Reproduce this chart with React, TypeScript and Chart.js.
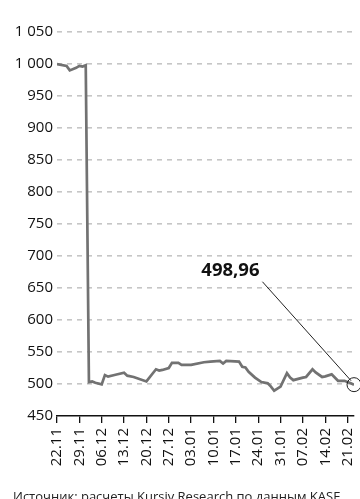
import React, { useEffect, useRef } from "react";
import { Chart, registerables } from "chart.js";

Chart.register(...registerables);

// Days since 22.11 and the index value on that day
const days = [
  0, 3, 4, 6, 7, 8, 9, 10, 11, 12, 14, 15, 16, 18, 21, 22, 24, 28, 31, 32, 33, 35, 36, 38, 39, 42,
  46, 48, 51, 52, 53, 57, 58, 59, 60, 62, 64, 66, 67, 68, 70, 72, 73, 74, 77, 78, 80, 81, 83, 84,
  86, 88, 90, 92, 93,
];
const values = [
  1000, 997, 990, 994, 997, 996, 998, 503, 504, 502, 499.5, 514, 511.5, 514, 517.5, 513, 511, 504,
  523, 521, 522, 525, 533, 533, 530, 530, 534, 535, 536, 532, 536, 535, 527, 526, 519, 510, 503,
  501, 496, 489.5, 496, 517, 510, 506, 510, 511, 523, 518, 511, 512, 515, 505, 505, 501, 498.96,
];

// Weekly axis marks
const tickDays = [0, 7, 14, 21, 28, 35, 42, 49, 56, 63, 70, 77, 84, 91];
const tickLabels = [
  "22.11", "29.11", "06.12", "13.12", "20.12", "27.12", "03.01",
  "10.01", "17.01", "24.01", "31.01", "07.02", "14.02", "21.02",
];

const lastLabel = "498,96";
const sourceText = "Источник: расчеты Kursiv Research по данным KASE";

// Where the callout text sits, in axis units
const calloutDay = 54.3;
const calloutValue = 677;

const FONT = "'Open Sans', 'Noto Sans', sans-serif";

const fmtThousands = (v: number) => {
  const s = String(Math.round(v));
  return s.length > 3 ? s.slice(0, s.length - 3) + " " + s.slice(-3) : s;
};

const calloutPlugin = {
  id: "lastValueCallout",
  afterDatasetsDraw(chart: any) {
    const { ctx, scales } = chart;
    const xs = scales.x;
    const ys = scales.y;
    const lx = xs.getPixelForValue(calloutDay);
    const ly = ys.getPixelForValue(calloutValue);
    const px = xs.getPixelForValue(days[days.length - 1]);
    const py = ys.getPixelForValue(values[values.length - 1]);
    ctx.save();
    ctx.font = `bold 18.5px ${FONT}`;
    ctx.fillStyle = "#111";
    ctx.textAlign = "center";
    ctx.textBaseline = "middle";
    ctx.fillText(lastLabel, lx, ly);
    ctx.strokeStyle = "#222";
    ctx.lineWidth = 1;
    ctx.beginPath();
    ctx.moveTo(lx + 32, ly + 11);
    ctx.lineTo(px - 3, py - 4);
    ctx.stroke();
    ctx.beginPath();
    ctx.arc(px, py, 7, 0, Math.PI * 2);
    ctx.stroke();
    ctx.restore();
  },
};

export default function App() {
  const ref = useRef<HTMLCanvasElement | null>(null);

  useEffect(() => {
    document.body.style.margin = "0";
    const canvas = ref.current;
    if (!canvas) return;
    const chart = new Chart(canvas, {
      type: "line",
      data: {
        datasets: [
          {
            data: days.map((d, i) => ({ x: d, y: values[i] })),
            borderColor: "#727272",
            borderWidth: 2.7,
            pointRadius: 0,
            tension: 0,
            fill: false,
          },
        ],
      },
      options: {
        animation: false,
        responsive: false,
        maintainAspectRatio: false,
        layout: { padding: { top: 32, right: 6, left: 0, bottom: 0 } },
        plugins: { legend: { display: false }, tooltip: { enabled: false } },
        scales: {
          x: {
            type: "linear",
            min: 0,
            max: 93,
            afterFit: (s: any) => {
              s.height = 83;
              s.paddingLeft = 0;
              s.paddingRight = 0;
            },
            afterBuildTicks: (s: any) => {
              s.ticks = tickDays.map((v) => ({ value: v }));
            },
            border: { display: true, color: "#111", width: 1.5 },
            grid: {
              drawOnChartArea: false,
              drawTicks: true,
              tickLength: 7,
              color: "#111",
              lineWidth: 1.3,
            },
            ticks: {
              autoSkip: false,
              minRotation: 90,
              maxRotation: 90,
              padding: 5,
              color: "#111",
              font: { family: FONT, size: 15 },
              callback: (_v: any, i: number) => tickLabels[i],
            },
          },
          y: {
            min: 450,
            max: 1050,
            afterFit: (s: any) => {
              s.width = 57;
            },
            border: { display: false, dash: [5, 5] },
            grid: {
              drawTicks: false,
              color: (c: any) => (c.tick && c.tick.value === 450 ? "rgba(0,0,0,0)" : "#c6c6c6"),
              lineWidth: 1.6,
            },
            ticks: {
              stepSize: 50,
              padding: 4,
              color: "#111",
              font: { family: FONT, size: 15 },
              callback: (v: any) => fmtThousands(Number(v)),
            },
          },
        },
      },
      plugins: [calloutPlugin],
    } as any);
    return () => chart.destroy();
  }, []);

  return (
    <div style={{ position: "relative", width: 360, height: 499, overflow: "hidden", background: "#fff" }}>
      <canvas ref={ref} width={360} height={499} style={{ display: "block" }} />
      <div
        style={{
          position: "absolute",
          left: 13,
          top: 487,
          whiteSpace: "nowrap",
          fontFamily: FONT,
          fontSize: 13,
          color: "#222",
        }}
      >
        {sourceText}
      </div>
    </div>
  );
}
